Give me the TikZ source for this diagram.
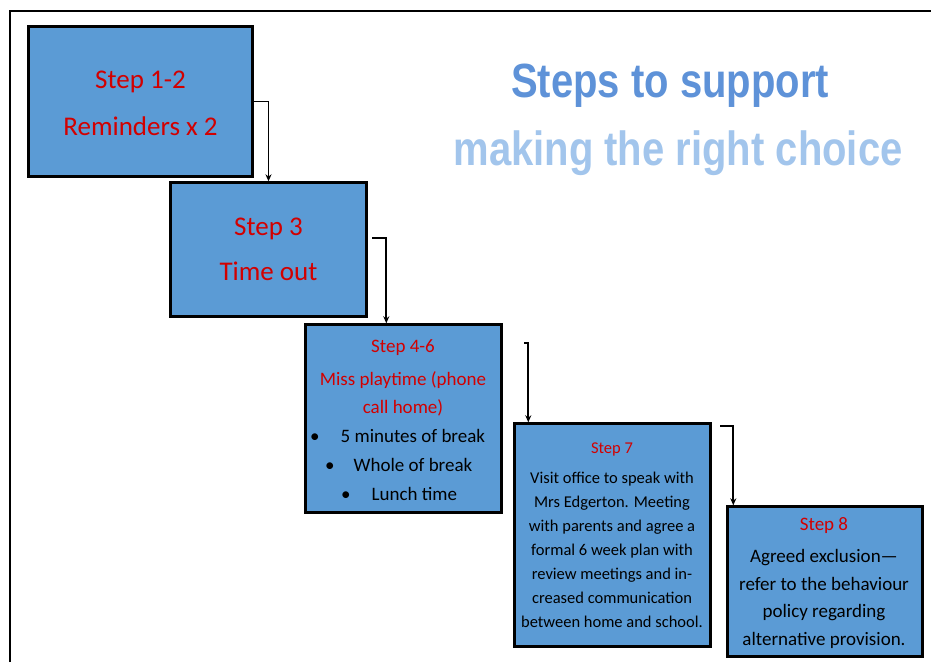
\documentclass[tikz,border=0pt]{standalone}
\usepackage{fontspec}
\usepackage{graphicx}
\setmainfont{Carlito}
\newfontfamily\titlefont{Liberation Sans}
\usetikzlibrary{arrows.meta}
\definecolor{boxblue}{RGB}{91,155,213}
\definecolor{stepred}{RGB}{210,0,0}
\definecolor{titleA}{RGB}{94,146,216}
\definecolor{titleB}{RGB}{162,197,236}
\begin{document}
\begin{tikzpicture}[x=1pt,y=-1pt,
  stepbox/.style={draw=black, line width=2.4pt, fill=boxblue, inner sep=0pt},
  flow/.style={draw=black, line width=1.8pt, -{Stealth[length=7pt,width=6pt]}},
  lbl/.style={anchor=base, inner sep=0pt, align=center},
  big/.style={font=\fontsize{27}{32}\selectfont, text=stepred},
  mid/.style={font=\fontsize{19}{27.5}\selectfont},
  small/.style={font=\fontsize{16.5}{24}\selectfont},
  titletxt/.style={anchor=base, inner sep=0pt, font=\titlefont\bfseries\fontsize{40}{48}\selectfont}
]
\useasboundingbox (0,0) rectangle (931,662);
\draw[line width=2pt] (10,662) -- (10,11) -- (931,11);

% title
\node[titletxt, text=titleA] (title1) at (670,97) {\scalebox{1}[1.2]{Steps to support}};
\node[titletxt, text=titleB] (title2) at (678,165) {\scalebox{1}[1.2]{making the right choice}};

% boxes
\node[stepbox, minimum width=224pt, minimum height=150pt] (b1) at (140.5,101.5) {};
\node[stepbox, minimum width=196pt, minimum height=134pt] (b2) at (268.5,249.5) {};
\node[stepbox, minimum width=196pt, minimum height=188pt] (b3) at (403.5,418.5) {};
\node[stepbox, minimum width=196pt, minimum height=223pt] (b4) at (612.5,535) {};
\node[stepbox, minimum width=195pt, minimum height=150pt] (b5) at (825,581.5) {};

% box 1
\node[lbl, big] (t1a) at (140.5,88) {Step 1-2};
\node[lbl, big] (t1b) at (140.5,135) {Reminders x 2};
% box 2
\node[lbl, big] (t2a) at (268.5,235) {Step 3};
\node[lbl, big] (t2b) at (268.5,280) {Time out};
% box 3
\node[lbl, mid, text=stepred] (t3a) at (403,352) {Step 4-6};
\node[lbl, mid, text=stepred] (t3b) at (403,413) {Miss playtime (phone\\call home)};
\node[lbl, mid, anchor=base west] (t3c) at (310,442) {\textbullet\hspace{21pt}5 minutes of break};
\node[lbl, mid, anchor=base west] (t3d) at (325,471) {\textbullet\hspace{19pt}Whole of break};
\node[lbl, mid, anchor=base west] (t3e) at (341,500) {\textbullet\hspace{21pt}Lunch time};
% box 4
\node[lbl, small, text=stepred] (t4a) at (612,453) {Step 7};
\node[lbl, small] (t4b) at (612,627) {Visit office to speak with\\Mrs Edgerton. Meeting\\with parents and agree a\\formal 6 week plan with\\review meetings and in-\\creased communication\\between home and school.};
% box 5
\node[lbl, mid, text=stepred] (t5a) at (824,530) {Step 8};
\node[lbl, mid] (t5b) at (824,645) {Agreed exclusion—\\refer to the behaviour\\policy regarding\\alternative provision.};

% connectors
\coordinate (s2) at (372,238);
\coordinate (s3) at (524,343);
\coordinate (s4) at (720,426);
\draw[flow] (b1.east) -| (b2.north);
\draw[flow] (s2) -| ([xshift=82pt]b3.north west);
\draw[flow] (s3) -| ([xshift=15pt]b4.north west);
\draw[flow] (s4) -| ([xshift=7pt]b5.north west);
\end{tikzpicture}
\end{document}
